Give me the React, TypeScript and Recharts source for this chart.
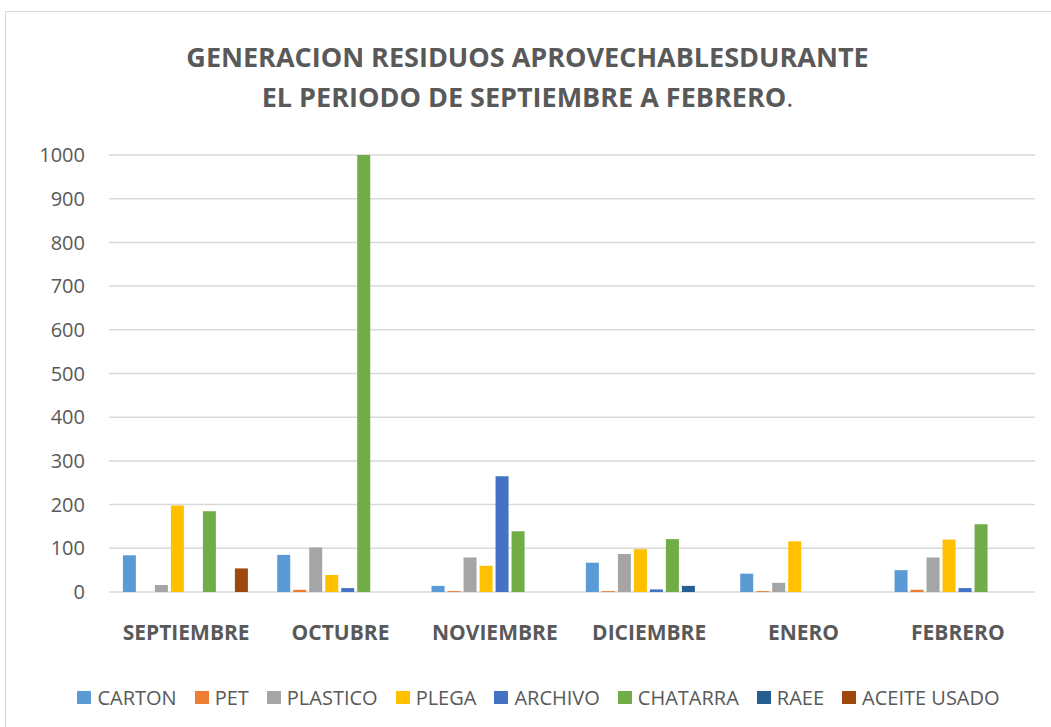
import React from 'react';
import { BarChart, Bar, XAxis, YAxis, CartesianGrid, Legend } from 'recharts';

const months = ['SEPTIEMBRE', 'OCTUBRE', 'NOVIEMBRE', 'DICIEMBRE', 'ENERO', 'FEBRERO'];
const carton = [84, 85, 14, 67, 42, 50];
const pet = [0, 5, 2, 2, 2, 5];
const plastico = [16, 102, 79, 87, 21, 79];
const plega = [198, 39, 60, 98, 116, 120];
const archivo = [0, 9, 265, 6, 0, 9];
const chatarra = [185, 1000, 139, 121, 0, 155];
const raee = [0, 0, 0, 14, 0, 0];
const aceite = [54, 0, 0, 0, 0, 0];
const yTicks = [0, 100, 200, 300, 400, 500, 600, 700, 800, 900, 1000];

const series = [
  { key: 'CARTON', values: carton, color: '#5B9BD5' },
  { key: 'PET', values: pet, color: '#ED7D31' },
  { key: 'PLASTICO', values: plastico, color: '#A5A5A5' },
  { key: 'PLEGA', values: plega, color: '#FFC000' },
  { key: 'ARCHIVO', values: archivo, color: '#4472C4' },
  { key: 'CHATARRA', values: chatarra, color: '#70AD47' },
  { key: 'RAEE', values: raee, color: '#255E91' },
  { key: 'ACEITE USADO', values: aceite, color: '#9E480E' },
];

const data = months.map((m, i) => {
  const row: Record<string, string | number> = { month: m };
  series.forEach((s) => {
    row[s.key] = s.values[i];
  });
  return row;
});

const FONT = '"Open Sans", "DejaVu Sans", sans-serif';

const renderLegend = (props: any) => {
  const payload = [...(props.payload || [])].sort(
    (a: any, b: any) =>
      series.findIndex((s) => s.key === a.dataKey) - series.findIndex((s) => s.key === b.dataKey)
  );
  return (
    <div
      style={{
        display: 'flex',
        justifyContent: 'center',
        alignItems: 'center',
        height: 20,
        marginTop: 20,
        paddingLeft: 60,
        fontFamily: FONT,
        fontSize: 20,
        color: '#595959',
        whiteSpace: 'nowrap',
      }}
    >
      {payload.map((p: any) => (
        <div key={p.value} style={{ display: 'flex', alignItems: 'center', marginRight: 18 }}>
          <span style={{ display: 'inline-block', width: 14, height: 13, background: p.color, marginRight: 6 }} />
          <span>{p.value}</span>
        </div>
      ))}
    </div>
  );
};

export default function App() {
  return (
    <div style={{ position: 'absolute', left: 0, top: 0, width: 1051, height: 727, background: '#fff', fontFamily: FONT, overflow: 'hidden' }}>
      <style>{'body{margin:0}'}</style>
      <div style={{ position: 'absolute', left: 5, top: 11, width: 1060, height: 730, border: '1px solid #d9d9d9', boxSizing: 'border-box' }} />
      <div style={{ position: 'absolute', left: 0, top: 37, width: 1051, textAlign: 'center', color: '#595959', fontWeight: 700, fontSize: 27, lineHeight: '39.5px' }}>
        <div style={{ marginLeft: 4 }}>GENERACION RESIDUOS APROVECHABLESDURANTE</div>
        <div style={{ marginLeft: 4 }}>EL PERIODO DE SEPTIEMBRE A FEBRERO<span style={{ fontWeight: 400 }}>.</span></div>
      </div>
      <div style={{ position: 'absolute', left: 0, top: 0 }}>
        <BarChart
          width={1051}
          height={727}
          data={data}
          margin={{ top: 155, right: 16, bottom: 0, left: 0 }}
          barCategoryGap="9%"
          barGap={3}
        >
          <CartesianGrid vertical={false} stroke="#d9d9d9" strokeWidth={1.5} />
          <XAxis
            dataKey="month"
            axisLine={false}
            tickLine={false}
            tickMargin={27}
            height={75}
            interval={0}
            tick={{ fill: '#595959', fontSize: 21, fontWeight: 700, fontFamily: FONT }}
          />
          <YAxis
            width={109}
            domain={[0, 1000]}
            ticks={yTicks}
            interval={0}
            axisLine={false}
            tickLine={false}
            tickMargin={18}
            tick={{ fill: '#595959', fontSize: 20, fontFamily: FONT }}
          />
          <Legend verticalAlign="bottom" align="center" height={60} content={renderLegend} />
          {series.map((s) => (
            <Bar key={s.key} dataKey={s.key} fill={s.color} isAnimationActive={false} />
          ))}
        </BarChart>
      </div>
    </div>
  );
}
